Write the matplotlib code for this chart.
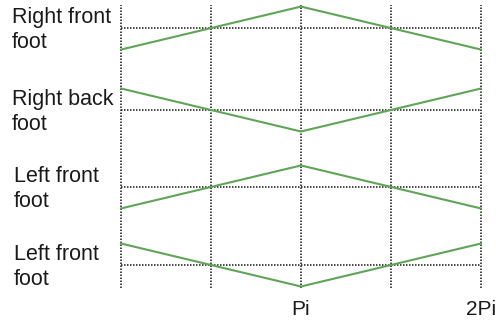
import numpy as np
import matplotlib
matplotlib.use("Agg")
import matplotlib.pyplot as plt
from matplotlib.transforms import blended_transform_factory

plt.rcParams['font.family'] = ['Liberation Sans', 'DejaVu Sans']

# phase points and foot signals (triangle waves)
phase = [0, np.pi, 2 * np.pi]
right_front = [-1, 1, -1]
right_back = [1, -1, 1]
left_front_a = [-1, 1, -1]
left_front_b = [1, -1, 1]

labels = ["Right front\nfoot", "Right back\nfoot", "Left front\nfoot", "Left front\nfoot"]
offsets = [11.02, 7.21, 3.63, 0.0]
grid_x = [0, np.pi / 2, np.pi, 3 * np.pi / 2, 2 * np.pi]
tick_pos = [np.pi, 2 * np.pi]
tick_labels = ["Pi", "2Pi"]

W, H = 496, 323
fig = plt.figure(figsize=(W / 100, H / 100), dpi=100)
ax = fig.add_axes([121 / W, 36.5 / H, 360 / W, 279.5 / H])
ax.set_xlim(0, 2 * np.pi)
ax.set_ylim(-1, 12)
ax.axis('off')

dot = dict(color='#2a2a2a', lw=1.2, linestyle=(0, (0.9, 0.9)), clip_on=False)

# vertical phase markers
for gx in grid_x:
    ax.plot([gx, gx], [-1.05, 12.1], **dot)

series = [right_front, right_back, left_front_a, left_front_b]
trans = blended_transform_factory(fig.transFigure, ax.transData)
label_x = [12 / W, 12 / W, 14 / W, 14 / W]
for vals, off, lab, lx in zip(series, offsets, labels, label_x):
    ax.plot([0, 2 * np.pi], [off, off], **dot)
    ax.plot(phase, np.array(vals) + off, color='#5fa457', lw=1.5,
            clip_on=False, zorder=3)
    ax.text(lx, off - 0.95, lab, transform=trans, fontsize=15.5,
            ha='left', va='baseline', linespacing=1.25, color='#1a1a1a')

for tp, tl in zip(tick_pos, tick_labels):
    ax.text(tp, -2.33, tl, fontsize=15, ha='center', va='baseline',
            color='#1a1a1a', clip_on=False)

fig.savefig("out.png", dpi=100, facecolor='white')
